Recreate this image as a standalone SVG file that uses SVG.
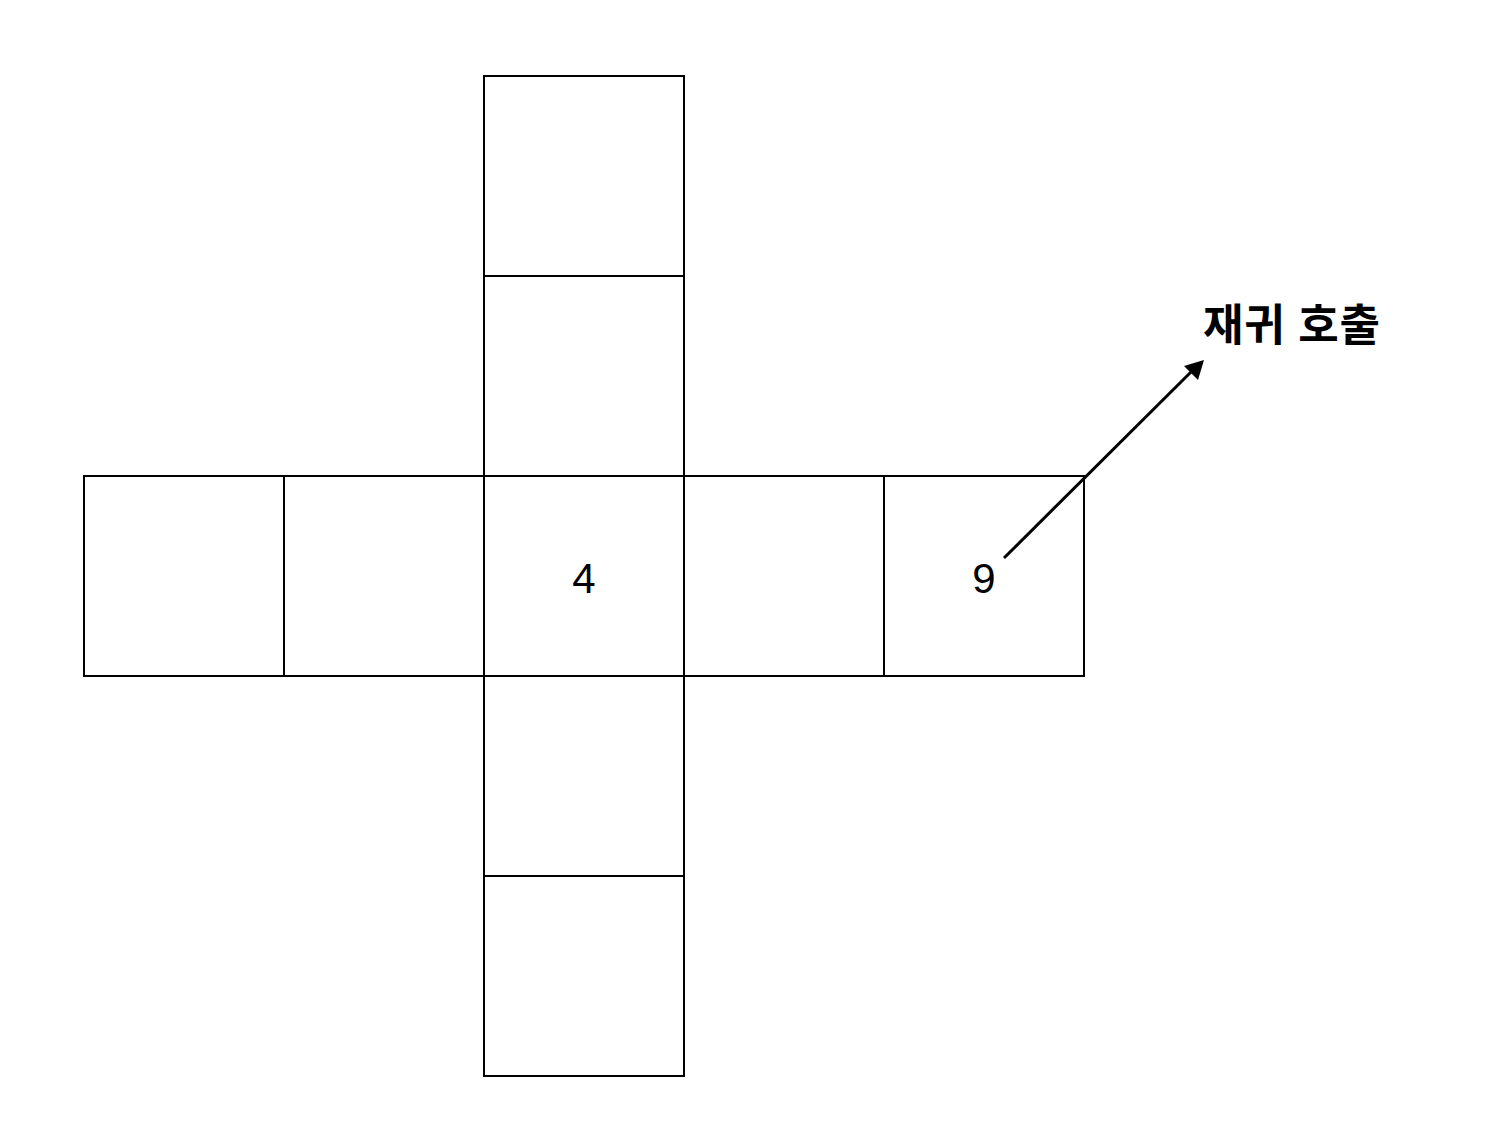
<svg xmlns="http://www.w3.org/2000/svg" width="1510" height="1132" viewBox="0 0 1510 1132">
<defs>
<style>
.cell{fill:#fff;stroke:#000;stroke-width:2}
.num{font-family:"Liberation Sans",Arial,sans-serif;font-size:42px;fill:#000;text-anchor:middle}
.lbl{font-family:"Liberation Sans","Noto Sans CJK KR",sans-serif;font-size:44px;font-weight:bold;fill:#000}
</style>
</defs>
<rect width="1510" height="1132" fill="#fff"/>
<g id="c-top1"><rect class="cell" x="484" y="76" width="200" height="200"/></g>
<g id="c-top2"><rect class="cell" x="484" y="276" width="200" height="200"/></g>
<g id="c-l1"><rect class="cell" x="84" y="476" width="200" height="200"/></g>
<g id="c-l2"><rect class="cell" x="284" y="476" width="200" height="200"/></g>
<g id="c-center"><rect class="cell" x="484" y="476" width="200" height="200"/><text class="num" x="584" y="593">4</text></g>
<g id="c-r1"><rect class="cell" x="684" y="476" width="200" height="200"/></g>
<g id="c-r2"><rect class="cell" x="884" y="476" width="200" height="200"/><text class="num" x="984" y="593">9</text></g>
<g id="c-bot1"><rect class="cell" x="484" y="676" width="200" height="200"/></g>
<g id="c-bot2"><rect class="cell" x="484" y="876" width="200" height="200"/></g>
<g id="label"><text class="lbl" x="1203" y="341" textLength="177" lengthAdjust="spacing">재귀 호출</text></g>
<g id="connectors">
<line x1="1004" y1="558" x2="1192" y2="371" stroke="#000" stroke-width="3"/>
<path d="M1204,360 L1198,380 L1184,366 Z" fill="#000"/>
</g>
</svg>
